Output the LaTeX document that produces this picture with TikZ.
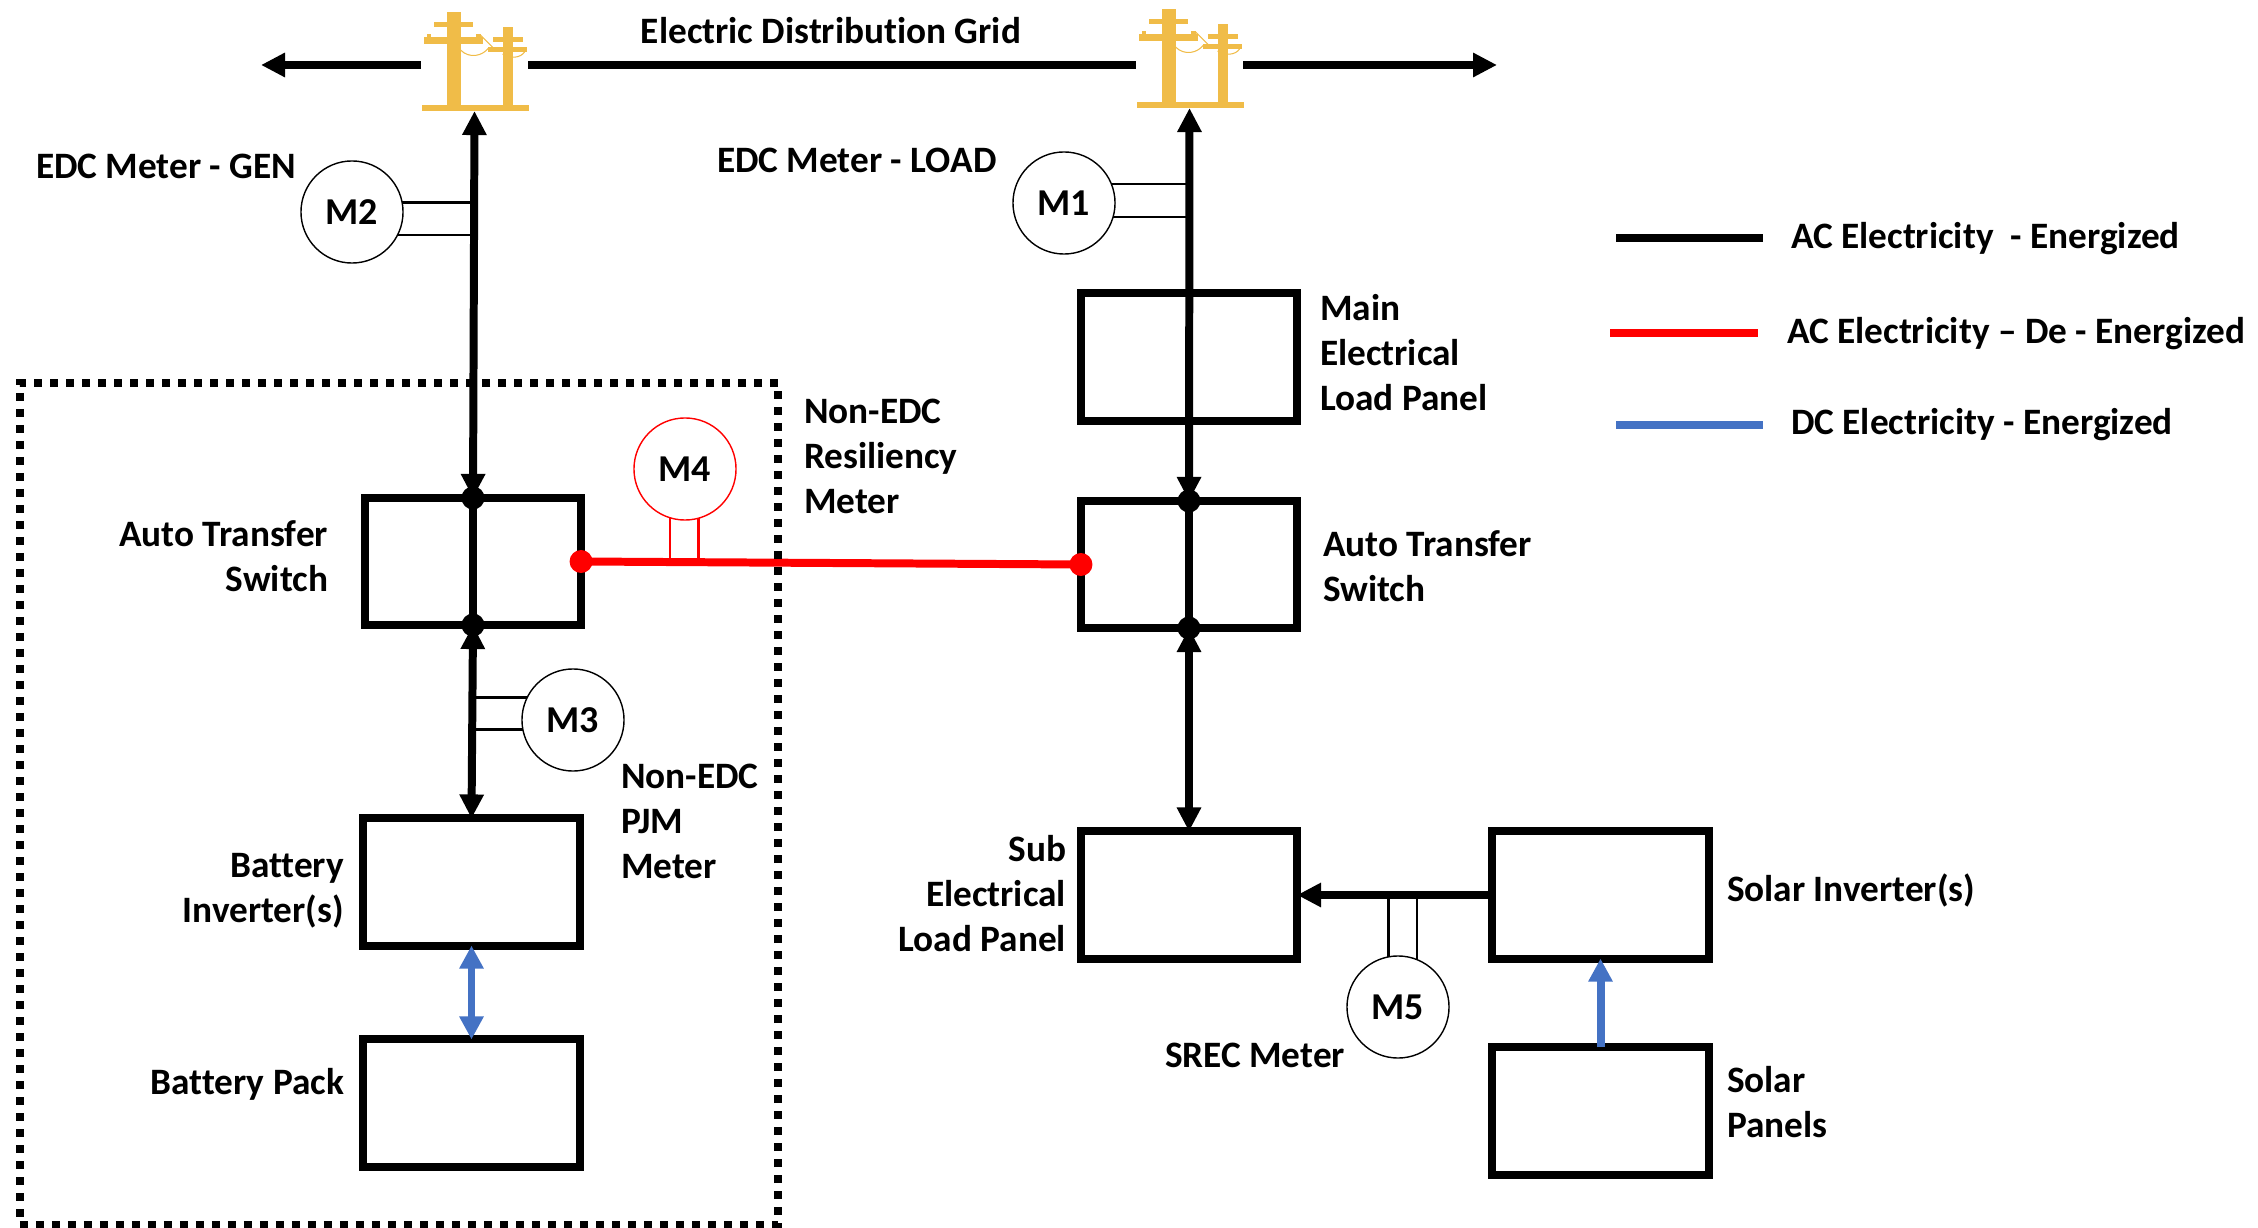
\documentclass[tikz,border=0pt]{standalone}
\usepackage{fontspec}
\setmainfont{Carlito}[Ligatures=NoCommon]
\usepackage{tikz}
\usetikzlibrary{arrows.meta, calc}
\definecolor{poleyellow}{RGB}{240, 188, 72}
\definecolor{dcblue}{RGB}{68, 114, 196}
\definecolor{acred}{RGB}{255, 0, 0}
\tikzset{
    panelbox/.style={rectangle, draw=black, line width=2.27pt, minimum width=2.16cm, minimum height=1.27cm, outer sep=0pt},
    meter/.style={circle, draw=black, line width=0.4pt, minimum size=1.02cm, inner sep=0pt, outer sep=0pt, font=\fontsize{10.8}{13}\selectfont\bfseries},
    stub/.style={black, line width=0.75pt},
    junction/.style={circle, fill=black, minimum size=0.23cm, inner sep=0pt, outer sep=0pt},
    polenode/.style={rectangle, minimum width=1.07cm, minimum height=0.92cm, inner sep=0pt, outer sep=0pt},
    label/.style={inner sep=0pt, outer sep=0pt, font=\fontsize{10.6}{12.8}\selectfont\bfseries},
    acline/.style={line width=2.27pt, black},
    acarrow/.style={line width=2.27pt, black, -{Triangle[length=0.24cm,width=0.23cm]}},
    acbiarrow/.style={line width=2.27pt, black, {Triangle[length=0.24cm,width=0.23cm]}-{Triangle[length=0.24cm,width=0.23cm]}},
    redline/.style={line width=2.27pt, acred},
    dcarrow/.style={line width=2.27pt, dcblue, -{Triangle[length=0.23cm,width=0.23cm]}},
    dcbiarrow/.style={line width=2.27pt, dcblue, {Triangle[length=0.23cm,width=0.23cm]}-{Triangle[length=0.23cm,width=0.23cm]}},
    backup/.style={rectangle, draw=black, line width=2.27pt, dash pattern=on 0.08cm off 0.08cm, minimum width=7.58cm, minimum height=8.42cm},
    pole/.pic={
        \fill[poleyellow] (-53,-6) rectangle (54,0);
        \fill[poleyellow] (-28,-99) rectangle (-14,0);
        \fill[poleyellow] (-41,-89) rectangle (-2,-84);
        \fill[poleyellow] (-51,-74) rectangle (8,-67);
        \fill[poleyellow] (-48,-77) rectangle (-44,-74);
        \fill[poleyellow] (1,-77) rectangle (6,-74);
        \fill[poleyellow] (28,-84) rectangle (38,0);
        \fill[poleyellow] (18,-74) rectangle (48,-69);
        \fill[poleyellow] (13,-64) rectangle (52,-59);
        \draw[poleyellow, line width=0.3pt] (6,-76) -- (20,-62);
        \draw[poleyellow, line width=0.3pt] (-14,-61) .. controls (-5,-52) and (8,-55) .. (14,-63);
        \draw[poleyellow, line width=0.3pt] (28,-57) .. controls (36,-52) and (46,-53) .. (50,-59);
    }
}

\begin{document}
\begin{tikzpicture}[x=0.01cm, y=-0.01cm]
    \useasboundingbox (0,0) rectangle (2258,1228);

    % Grid and poles
    \node[polenode] (poleA) at (474.5,65) {};
    \node[polenode, minimum height=0.86cm] (poleB) at (1189.5,65) {};
    \pic at (poleA.south) {pole};
    \pic at (poleB.south) {pole};
    \coordinate (gridW) at (261,65);
    \coordinate (gridE) at (1497,65);
    \draw[acarrow] (poleA.west) -- (gridW);
    \draw[acline] (poleA.east) -- (poleB.west);
    \draw[acarrow] (poleB.east) -- (gridE);

    % Panels
    \node[panelbox] (atsL) at (473,561.5) {};
    \node[panelbox] (atsR) at (1189,564.5) {};
    \node[panelbox] (mainPanel) at (1189,357) {};
    \node[panelbox] (subPanel) at (1189,895) {};
    \node[panelbox] (solarInv) at (1600.5,895) {};
    \node[panelbox] (solarPanels) at (1600.5,1111) {};
    \node[panelbox] (batInv) at (471.5,882) {};
    \node[panelbox] (batPack) at (471.5,1103) {};

    % Junctions
    \node[junction] (dotLt) at (atsL.north) {};
    \node[junction] (dotLb) at (atsL.south) {};
    \node[junction] (dotRt) at (atsR.north) {};
    \node[junction] (dotRb) at (atsR.south) {};

    % AC feeders
    \draw[acbiarrow] (poleA.south) -- (dotLt.center);
    \draw[acline] (dotLt.center) -- (dotLb.center);
    \draw[acbiarrow] (dotLb.center) -- (batInv.north);
    \draw[acbiarrow] (poleB.south) -- (dotRt.center);
    \draw[acline] (dotRt.center) -- (dotRb.center);
    \draw[acbiarrow] (dotRb.center) -- (subPanel.north);
    \draw[acarrow] (solarInv.west) -- (subPanel.east);

    % DC links
    \draw[dcbiarrow] (batPack.north) -- (batInv.south);
    \draw[dcarrow] (solarPanels.north) -- (solarInv.south);

    % De-energized tie
    \draw[redline] (atsL.east) -- (atsR.west);
    \node[junction, fill=acred] (dotRedL) at (atsL.east) {};
    \node[junction, fill=acred] (dotRedR) at (atsR.west) {};

    % Meters
    \node[meter] (m1) at (1064,203) {M1};
    \node[meter] (m2) at (352,212) {M2};
    \node[meter] (m3) at (573,720) {M3};
    \node[meter, draw=acred] (m4) at (685,469) {M4};
    \node[meter] (m5) at (1398,1007) {M5};
    \draw[stub] (m1.22) -- (m1.22 -| poleB.south);
    \draw[stub] (m1.-16) -- (m1.-16 -| poleB.south);
    \draw[stub] (m2.11) -- (m2.11 -| poleA.south);
    \draw[stub] (m2.-27) -- (m2.-27 -| poleA.south);
    \draw[stub] (m3.154) -- (m3.154 -| batInv.north);
    \draw[stub] (m3.191) -- (m3.191 -| batInv.north);
    \draw[stub, acred] (m4.253) -- (m4.253 |- atsL.east);
    \draw[stub, acred] (m4.285) -- (m4.285 |- atsL.east);
    \draw[stub] (m5.101) -- (m5.101 |- subPanel.east);
    \draw[stub] (m5.68) -- (m5.68 |- subPanel.east);

    % Dotted enclosure
    \node[backup] (resilBox) at (399,804) {};

    % Labels
    \node[label] (gridLabel) at (831,31) {Electric Distribution Grid};
    \node[label, anchor=west] (edcGen) at (36,166) {EDC Meter - GEN};
    \node[label, anchor=west] (edcLoad) at (717,160) {EDC Meter - LOAD};
    \node[label, anchor=west, align=left] (mainLabel) at (1320,353) {Main\\Electrical\\Load Panel};
    \node[label, anchor=west, align=left] (resilLabel) at (804,456) {Non-EDC\\Resiliency\\Meter};
    \node[label, anchor=east, align=right] (atsLLabel) at (328,556) {Auto Transfer\\Switch};
    \node[label, anchor=west, align=left] (atsRLabel) at (1323,566) {Auto Transfer\\Switch};
    \node[label, anchor=west, align=left] (pjmLabel) at (621,821) {Non-EDC\\PJM\\Meter};
    \node[label, anchor=east, align=right] (batInvLabel) at (344,891) {Battery\\Inverter(s)};
    \node[label, anchor=east] (batPackLabel) at (344,1084) {Battery Pack};
    \node[label, anchor=east, align=right] (subLabel) at (1066,894) {Sub\\Electrical\\Load Panel};
    \node[label, anchor=west] (solarInvLabel) at (1727,890) {Solar Inverter(s)};
    \node[label, anchor=west] (srecLabel) at (1165,1055) {SREC Meter};
    \node[label, anchor=west, align=left] (solarLabel) at (1727,1102) {Solar\\Panels};

    % Legend
    \node[label, anchor=west] (legA) at (1791,239) {AC Electricity\ \ - Energized};
    \node[label, anchor=west] (legB) at (1787,334) {AC Electricity -- De - Energized};
    \node[label, anchor=west] (legC) at (1791,425) {DC Electricity - Energized};
    \coordinate (legAs) at (1616,238);
    \coordinate (legBs) at (1610,333);
    \coordinate (legCs) at (1616,425);
    \draw[acline] (legAs) -- ++(147,0);
    \draw[redline] (legBs) -- ++(148,0);
    \draw[line width=2.27pt, dcblue] (legCs) -- ++(147,0);
\end{tikzpicture}
\end{document}
